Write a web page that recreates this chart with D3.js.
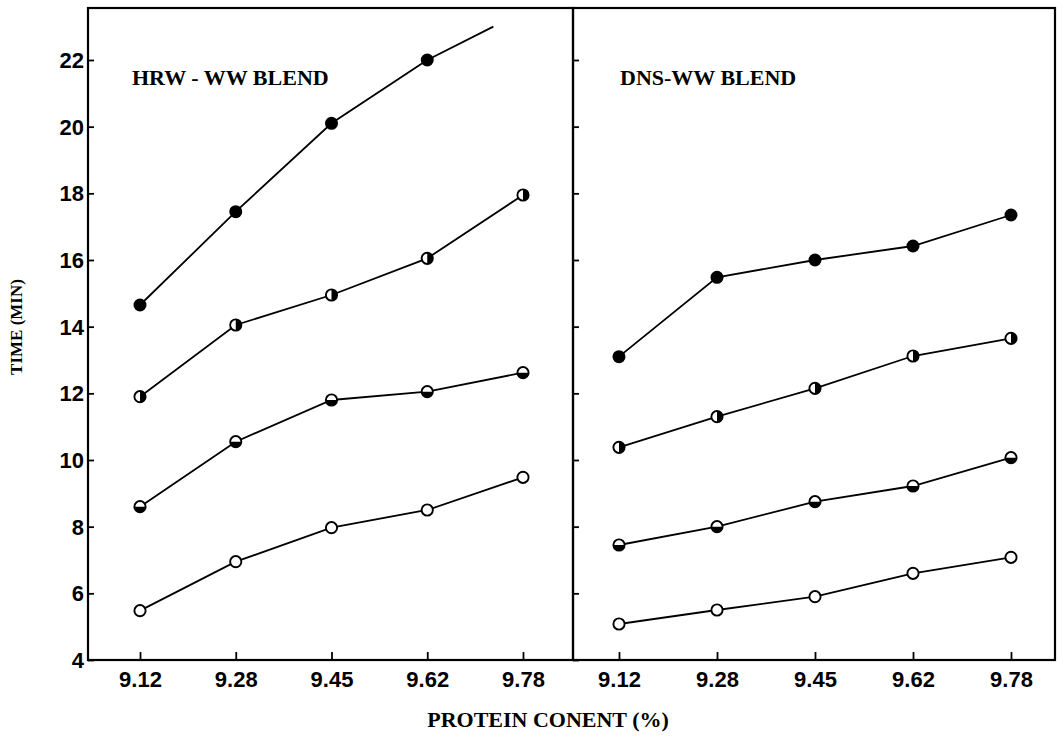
<!DOCTYPE html>
<html>
<head>
<meta charset="utf-8">
<script src="https://cdn.jsdelivr.net/npm/d3@7/dist/d3.min.js"></script>
<style>
  html, body { margin: 0; padding: 0; background: #fff; }
  svg { display: block; }
</style>
</head>
<body>
<svg id="chart" width="1063" height="737"></svg>
<script>
// ---------------- data ----------------
const categories = ["9.12", "9.28", "9.45", "9.62", "9.78"];
const yTicks = [4, 6, 8, 10, 12, 14, 16, 18, 20, 22];
const yTop = 23.56;

const panelTitles = ["HRW - WW BLEND", "DNS-WW BLEND"];
const xTitle = "PROTEIN CONENT (%)";
const yTitle = "TIME (MIN)";

// HRW-WW blend
const hrwSolid      = [14.65, 17.45, 20.1, 22.0, null];
const hrwSolidTrail = [3.69, 23.0];           // unmarked line continuing past last point (index, value)
const hrwRightHalf  = [11.9, 14.05, 14.95, 16.05, 17.95];
const hrwBottomHalf = [8.6, 10.55, 11.8, 12.05, 12.62];
const hrwOpen       = [5.48, 6.95, 7.97, 8.5, 9.48];

// DNS-WW blend
const dnsSolid      = [13.1, 15.48, 16.0, 16.42, 17.35];
const dnsRightHalf  = [10.38, 11.3, 12.15, 13.12, 13.65];
const dnsBottomHalf = [7.45, 8.0, 8.75, 9.22, 10.07];
const dnsOpen       = [5.08, 5.5, 5.9, 6.6, 7.08];

const markerTypes = ["solid", "rightHalf", "bottomHalf", "open"];

// ---------------- layout ----------------
(function () {
const svg = d3.select("#chart");
const plotTop = 8, plotBottom = 660;
const panels = [
  { x0: 88,  x1: 573,  first: 140, last: 523, title: panelTitles[0], titleX: 132,
    series: [hrwSolid, hrwRightHalf, hrwBottomHalf, hrwOpen], trail: hrwSolidTrail, labels: true },
  { x0: 573, x1: 1055, first: 619, last: 1011, title: panelTitles[1], titleX: 620,
    series: [dnsSolid, dnsRightHalf, dnsBottomHalf, dnsOpen], trail: null, labels: false }
];

const y = d3.scaleLinear().domain([4, yTop]).range([plotBottom, plotTop]);
const sansFont = "'Liberation Sans', Arial, Helvetica, sans-serif";
const serifFont = "'Liberation Serif', 'Times New Roman', serif";

panels.forEach((p, pi) => {
  const x = d3.scaleLinear().domain([0, categories.length - 1]).range([p.first, p.last]);
  const g = svg.append("g");

  // y axis (ticks inward)
  const yAxis = d3.axisLeft(y).tickValues(yTicks).tickSizeInner(-6).tickSizeOuter(0).tickPadding(4)
    .tickFormat(p.labels ? d3.format("d") : () => "");
  const ya = g.append("g").attr("transform", `translate(${p.x0},0)`).call(yAxis);
  ya.select(".domain").remove();
  ya.selectAll(".tick line").attr("stroke", "#000").attr("stroke-width", 1.8);
  ya.selectAll("text").attr("font-family", sansFont).attr("font-weight", "bold")
    .attr("font-size", 22).attr("fill", "#000").attr("dy", "0.34em");

  // x axis
  const xAxis = d3.axisBottom(x).tickValues(d3.range(categories.length))
    .tickFormat(i => categories[i]).tickSizeInner(-8).tickSizeOuter(0).tickPadding(11);
  const xa = g.append("g").attr("transform", `translate(0,${plotBottom})`).call(xAxis);
  xa.select(".domain").remove();
  xa.selectAll(".tick line").attr("stroke", "#000").attr("stroke-width", 1.8);
  xa.selectAll("text").attr("font-family", sansFont).attr("font-weight", "bold")
    .attr("font-size", 22).attr("fill", "#000");

  // frame
  g.append("rect").attr("x", p.x0).attr("y", plotTop).attr("width", p.x1 - p.x0).attr("height", plotBottom - plotTop)
    .attr("fill", "none").attr("stroke", "#000").attr("stroke-width", 2.2);

  // panel title
  g.append("text").attr("x", p.titleX).attr("y", y(21.5) + 8).text(p.title)
    .attr("font-family", serifFont).attr("font-weight", "bold").attr("font-size", 22).attr("fill", "#000");

  const line = d3.line().defined(d => d.v != null).x(d => x(d.i)).y(d => y(d.v));

  p.series.forEach((vals, si) => {
    const pts = vals.map((v, i) => ({ i, v }));
    g.append("path").datum(pts).attr("d", line)
      .attr("fill", "none").attr("stroke", "#000").attr("stroke-width", 1.8);
    if (si === 0 && p.trail) {
      const lastIdx = vals.map(v => v != null).lastIndexOf(true);
      g.append("path").datum([{ i: lastIdx, v: vals[lastIdx] }, { i: p.trail[0], v: p.trail[1] }])
        .attr("d", line).attr("fill", "none").attr("stroke", "#000").attr("stroke-width", 1.8);
    }
    const type = markerTypes[si];
    const r = type === "solid" ? 6.5 : 5.6;
    const mk = g.selectAll(null).data(pts.filter(d => d.v != null)).enter().append("g")
      .attr("transform", d => `translate(${x(d.i)},${y(d.v)})`);
    mk.append("circle").attr("r", r)
      .attr("fill", type === "solid" ? "#000" : "#fff")
      .attr("stroke", "#000").attr("stroke-width", type === "solid" ? 0 : 1.9);
    if (type === "rightHalf" || type === "bottomHalf") {
      const a0 = type === "rightHalf" ? 0 : Math.PI / 2;
      const arc = d3.arc().innerRadius(0).outerRadius(r).startAngle(a0).endAngle(a0 + Math.PI);
      mk.append("path").attr("d", arc()).attr("fill", "#000");
    }
  });
});

// axis titles
svg.append("text").attr("x", 548).attr("y", 727).attr("text-anchor", "middle").text(xTitle)
  .attr("font-family", serifFont).attr("font-weight", "bold").attr("font-size", 22).attr("fill", "#000");
svg.append("text").attr("transform", "translate(22,327) rotate(-90)").attr("text-anchor", "middle").text(yTitle)
  .attr("font-family", serifFont).attr("font-weight", "bold").attr("font-size", 17).attr("fill", "#000");
})();
</script>
</body>
</html>
